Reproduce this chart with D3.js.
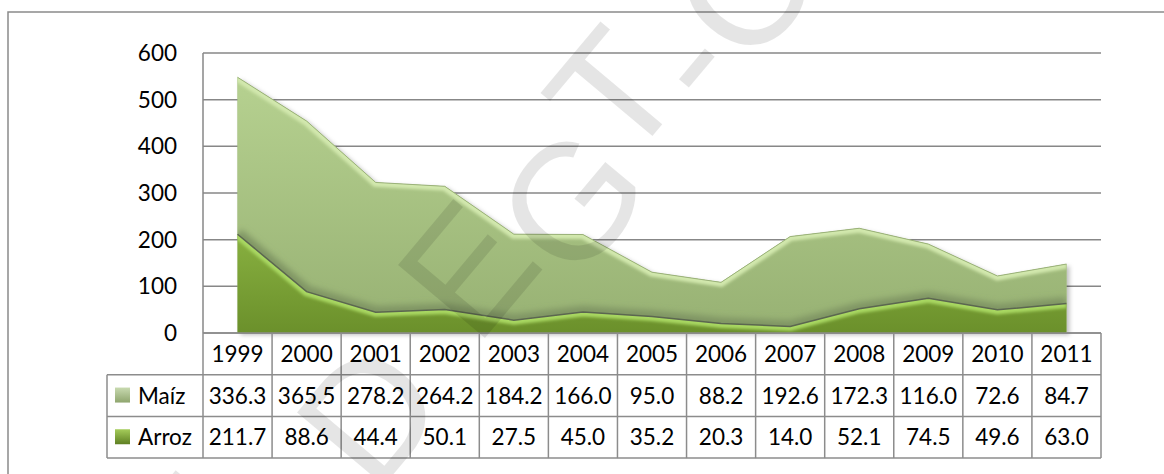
<!DOCTYPE html>
<html>
<head>
<meta charset="utf-8">
<script src="https://cdn.jsdelivr.net/npm/d3@7"></script>
<style>
  body { margin: 0; background: #fff; }
  svg { display: block; font-family: Lato, "Open Sans", sans-serif; }
</style>
</head>
<body>
<svg id="chart" width="1164" height="474"></svg>
<script>
// data
const years = ['1999', '2000', '2001', '2002', '2003', '2004', '2005', '2006', '2007', '2008', '2009', '2010', '2011']
const maiz = [336.3, 365.5, 278.2, 264.2, 184.2, 166.0, 95.0, 88.2, 192.6, 172.3, 116.0, 72.6, 84.7]
const arroz = [211.7, 88.6, 44.4, 50.1, 27.5, 45.0, 35.2, 20.3, 14.0, 52.1, 74.5, 49.6, 63.0]
const yTicks = [0, 100, 200, 300, 400, 500, 600]
const seriesNames = ['Maíz', 'Arroz']

const svg = d3.select('#chart')
const plotLeft = 203, plotRight = 1101, plotTop = 53, plotBottom = 333
const rowH = 41.7
const legendLeft = 107

const x = d3.scaleBand().domain(years).range([plotLeft, plotRight])
const y = d3.scaleLinear().domain([0, 600]).range([plotBottom, plotTop])
const cx = d => x(d) + x.bandwidth() / 2

const rows = years.map((yr, i) => ({ year: yr, arroz: arroz[i], maiz: maiz[i] }))
const stacked = d3.stack().keys(['arroz', 'maiz'])(rows)

const defs = svg.append('defs')
const grad = (id, stops) => {
  const g = defs.append('linearGradient').attr('id', id).attr('x1', 0).attr('y1', 0).attr('x2', 0).attr('y2', 1)
  stops.forEach(s => g.append('stop').attr('offset', s[0]).attr('stop-color', s[1]))
}
grad('gMaiz', [[0, '#b6d190'], [1, '#98b274']])
grad('gArroz', [[0, '#88b040'], [1, '#6b902b']])
grad('kMaiz', [[0, '#c8dab0'], [1, '#8fa56e']])
grad('kArroz', [[0, '#a5cc5a'], [1, '#5e7f22']])
defs.append('filter').attr('id', 'blur').append('feGaussianBlur').attr('stdDeviation', 1.6)
defs.append('filter').attr('id', 'blur2').append('feGaussianBlur').attr('stdDeviation', 3)
defs.append('filter').attr('id', 'shadow')
  .attr('x', '-5%').attr('y', '-5%').attr('width', '115%').attr('height', '115%')
  .append('feDropShadow').attr('dx', 3).attr('dy', 2).attr('stdDeviation', 2)
  .attr('flood-color', '#000').attr('flood-opacity', 0.25)

// outer frame (runs past the right and bottom edge)
svg.append('rect').attr('x', 8).attr('y', 12).attr('width', 1200).attr('height', 500)
  .attr('fill', 'none').attr('stroke', '#8a8a8a').attr('stroke-width', 1.5)

// gridlines
svg.append('g').selectAll('line').data(yTicks).join('line')
  .attr('x1', plotLeft).attr('x2', plotRight)
  .attr('y1', d => y(d)).attr('y2', d => y(d))
  .attr('stroke', '#878787').attr('stroke-width', 1.5)
svg.append('line').attr('x1', plotLeft).attr('x2', plotLeft).attr('y1', plotTop).attr('y2', plotBottom)
  .attr('stroke', '#878787').attr('stroke-width', 1.5)

// y labels
svg.append('g').selectAll('text').data(yTicks).join('text')
  .attr('x', 177).attr('y', d => y(d)).attr('dy', '0.36em')
  .attr('text-anchor', 'end').attr('font-size', 22.5).attr('fill', '#000')
  .text(d => d)

const area = d3.area().x(d => cx(d.data.year)).y0(d => y(d[0])).y1(d => y(d[1]))
const topLine = d3.line().x(d => cx(d.data.year)).y(d => y(d[1]))

const m = stacked[1], a = stacked[0]
defs.append('clipPath').attr('id', 'cMaiz').append('path').attr('d', area(m))
defs.append('clipPath').attr('id', 'cArroz').append('path').attr('d', area(a))

// shadow under the whole stack
svg.append('path').attr('d', d3.area().x(d => cx(d.data.year)).y0(y(0)).y1(d => y(d[1]))(m))
  .attr('fill', '#9ab476').attr('filter', 'url(#shadow)')

// Maíz (upper layer)
svg.append('path').attr('d', area(m)).attr('fill', 'url(#gMaiz)')
const mg = svg.append('g').attr('clip-path', 'url(#cMaiz)')
mg.append('path').attr('d', topLine(m)).attr('fill', 'none')
  .attr('stroke', '#d2e8ad').attr('stroke-width', 9).attr('filter', 'url(#blur)')
mg.append('path').attr('d', topLine(a)).attr('fill', 'none')
  .attr('stroke', '#7f9463').attr('stroke-width', 12).attr('filter', 'url(#blur2)')
svg.append('path').attr('d', topLine(m)).attr('fill', 'none')
  .attr('stroke', '#9bb27a').attr('stroke-width', 1)

// Arroz (lower layer)
svg.append('path').attr('d', area(a)).attr('fill', 'url(#gArroz)')
svg.append('g').attr('clip-path', 'url(#cArroz)')
  .append('path').attr('d', topLine(a)).attr('fill', 'none')
  .attr('stroke', '#a9d862').attr('stroke-width', 9).attr('filter', 'url(#blur)')
svg.append('path').attr('d', topLine(a)).attr('fill', 'none')
  .attr('stroke', '#5b6650').attr('stroke-width', 1.5)

// data table
const fmt = d3.format('.1f')
const tbl = svg.append('g')
const lineC = '#8c8c8c'
tbl.append('line').attr('x1', plotLeft).attr('x2', plotRight).attr('y1', plotBottom).attr('y2', plotBottom)
  .attr('stroke', lineC).attr('stroke-width', 1.5)
;[1, 2, 3].forEach(r => {
  tbl.append('line').attr('x1', legendLeft).attr('x2', plotRight)
    .attr('y1', plotBottom + r * rowH).attr('y2', plotBottom + r * rowH)
    .attr('stroke', lineC).attr('stroke-width', 1.5)
})
const cols = years.map(d => x(d)).concat([plotRight])
tbl.selectAll('.vcol').data(cols).join('line').attr('class', 'vcol')
  .attr('x1', d => d).attr('x2', d => d).attr('y1', plotBottom).attr('y2', plotBottom + 3 * rowH)
  .attr('stroke', lineC).attr('stroke-width', 1.5)
tbl.append('line').attr('x1', legendLeft).attr('x2', legendLeft)
  .attr('y1', plotBottom + rowH).attr('y2', plotBottom + 3 * rowH)
  .attr('stroke', lineC).attr('stroke-width', 1.5)

tbl.selectAll('.yr').data(years).join('text').attr('class', 'yr')
  .attr('x', d => cx(d)).attr('y', plotBottom + rowH / 2).attr('dy', '0.36em')
  .attr('text-anchor', 'middle').attr('font-size', 22.5).text(d => d)

const tableRows = [[seriesNames[0], maiz, 'kMaiz'], [seriesNames[1], arroz, 'kArroz']]
tableRows.forEach((r, ri) => {
  const yc = plotBottom + rowH * (ri + 1.5)
  tbl.append('rect').attr('x', 115).attr('y', yc - 8).attr('width', 15).attr('height', 15)
    .attr('fill', `url(#${r[2]})`)
  tbl.append('text').attr('x', 138).attr('y', yc).attr('dy', '0.36em')
    .attr('font-size', 22.5).text(r[0])
  tbl.selectAll('.v' + ri).data(r[1]).join('text').attr('class', 'v' + ri)
    .attr('x', (d, i) => cx(years[i])).attr('y', yc).attr('dy', '0.36em')
    .attr('text-anchor', 'middle').attr('font-size', 22.5).text(d => fmt(d))
})

// faint watermark over the picture
const wm = [['L', 228, 492], ['D', 368, 412], ['E', 466, 268], ['G', 570, 200], ['T', 612, 92], ['-', 685, 58], ['C', 742, -12]]
svg.append('g').selectAll('text').data(wm).join('text')
  .attr('transform', d => `translate(${d[1]},${d[2]}) rotate(-50)`)
  .attr('text-anchor', 'middle').attr('dy', '0.36em')
  .attr('font-family', 'Liberation Sans, sans-serif').attr('font-size', 165)
  .attr('fill', '#000').attr('fill-opacity', 0.1)
  .text(d => d[0])
</script>
</body>
</html>
